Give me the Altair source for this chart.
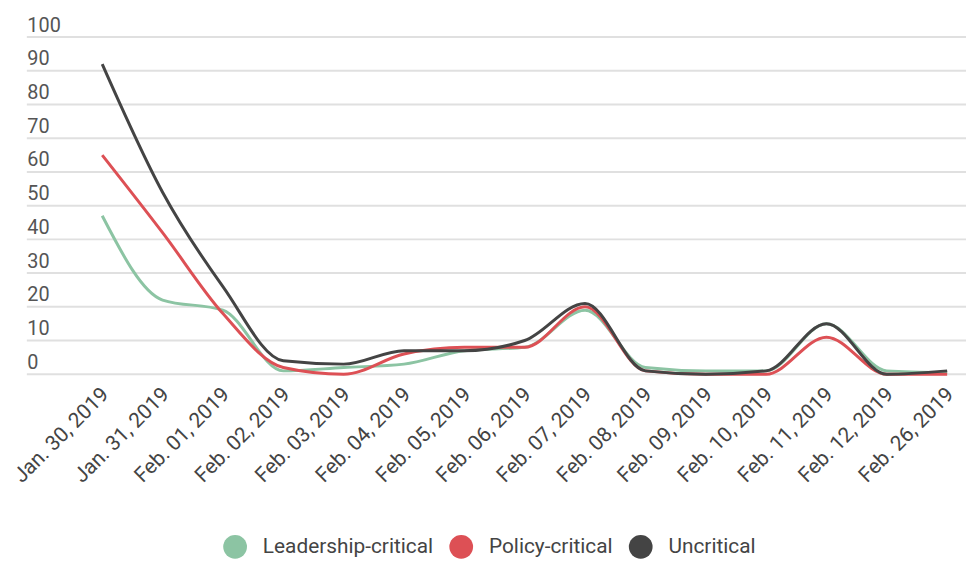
import altair as alt
import pandas as pd

dates = ["Jan. 30, 2019", "Jan. 31, 2019", "Feb. 01, 2019", "Feb. 02, 2019",
         "Feb. 03, 2019", "Feb. 04, 2019", "Feb. 05, 2019", "Feb. 06, 2019",
         "Feb. 07, 2019", "Feb. 08, 2019", "Feb. 09, 2019", "Feb. 10, 2019",
         "Feb. 11, 2019", "Feb. 12, 2019", "Feb. 26, 2019"]
series_names = ["Leadership-critical", "Policy-critical", "Uncritical"]
leadership = [47, 22, 19, 1, 2, 3, 7, 8, 19, 2, 1, 1, 15, 1, 0.5]
policy = [65, 42, 18, 2, 0, 6, 8, 8, 20, 1, 0, 0, 11, 0, 0]
uncritical = [92, 54, 26, 4, 3, 7, 7, 10, 21, 1, 0, 1, 15, 0, 1]
colors = ["#8cc4a3", "#dd5055", "#444444"]
y_ticks = [0, 10, 20, 30, 40, 50, 60, 70, 80, 90, 100]

W, H = 947, 340

rows = []
for name, vals in zip(series_names, [leadership, policy, uncritical]):
    for d, v in zip(dates, vals):
        rows.append({"date": d, "series": name, "value": v})
df = pd.DataFrame(rows)
grid_df = pd.DataFrame({"tick": y_ticks})

y_scale = alt.Scale(domain=[0, 100], nice=False)
color_scale = alt.Scale(domain=series_names, range=colors)
y_axis = alt.Axis(title=None, values=y_ticks, labelAlign="left",
                  labelBaseline="alphabetic", labelOffset=-6,
                  labelPadding=0, ticks=False, domain=False,
                  grid=False, labelFontSize=20,
                  labelColor="#555555", labelFont="Roboto")
x_enc = alt.X("date:N", sort=dates,
              scale=alt.Scale(type="point", range=[76, 928], padding=0),
              axis=alt.Axis(title=None, labelAngle=-45, labelAlign="right",
                            labelBaseline="middle", labelFontSize=21,
                            labelColor="#444444", labelFont="Roboto",
                            ticks=False, domain=False, grid=False,
                            labelPadding=17, labelOffset=3))

grid = alt.Chart(grid_df).mark_rule(color="#e0e0e0", strokeWidth=2).encode(
    y=alt.Y("tick:Q", scale=y_scale, axis=y_axis),
    x=alt.value(0),
    x2=alt.value(W),
)

# legend carrier: filled circles (no rows drawn, legend built from the scale domain)
legend_layer = alt.Chart(df).transform_filter("datum.value < -1").mark_circle(opacity=1).encode(
    x=x_enc,
    y=alt.Y("value:Q", scale=y_scale, axis=y_axis),
    color=alt.Color("series:N", sort=series_names, scale=color_scale,
                    legend=alt.Legend(title=None, orient="none", legendX=198,
                                      legendY=502, direction="horizontal",
                                      symbolType="circle", symbolSize=573,
                                      symbolStrokeWidth=0, labelFontSize=21,
                                      labelFont="Roboto", labelColor="#444444",
                                      labelOffset=16, columnPadding=16,
                                      labelLimit=400, padding=0)),
)

lines = alt.Chart(df).mark_line(interpolate="monotone", strokeWidth=3).encode(
    x=x_enc,
    y=alt.Y("value:Q", scale=y_scale, axis=y_axis),
    color=alt.Color("series:N", sort=series_names, scale=color_scale, legend=None),
    order=alt.Order("series:N"),
)

chart = alt.layer(grid, legend_layer, lines).resolve_legend(
    color="independent"
).properties(
    width=W, height=H,
    autosize=alt.AutoSizeParams(type="none"),
    padding={"left": 19, "top": 27, "right": 0, "bottom": 186},
).configure_view(stroke=None)

chart.save("out.html", embed_options={"renderer": "svg", "actions": False})
